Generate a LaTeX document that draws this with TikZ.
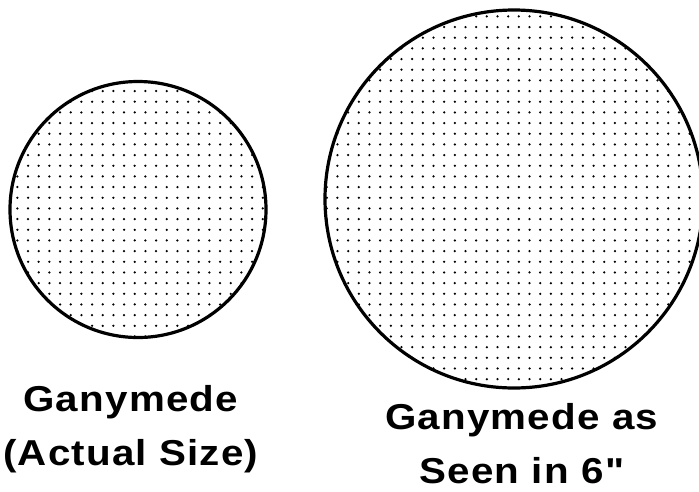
\documentclass[tikz,border=0pt]{standalone}
\usepackage{fontspec}
\setmainfont{Liberation Sans}
\newfontfamily\labelfont[LetterSpace=3]{Liberation Sans}
\usetikzlibrary{positioning}

\begin{document}
\begin{tikzpicture}[x=1pt,y=-1pt,every node/.style={inner sep=0pt},
  moon/.style={circle,draw,line width=3.2pt},
  caption/.style={align=center,xscale=1.12,transform shape,font=\labelfont\bfseries\fontsize{36}{54}\selectfont}]
\useasboundingbox (0,0) rectangle (699,491);
\node[moon,minimum size=256pt](actual) at (138,209.5){};
\node[moon,minimum size=378pt](seen) at (514,199){};
% dotted surface of both discs
\begin{scope}
\clip (actual.center) circle (128pt) (seen.center) circle (189pt);
\foreach \i in {0,...,65} \foreach \j in {0,...,46}
  \fill (6.7+10.67*\i,5.7+10.67*\j) circle (1.25pt);
\end{scope}
\node[caption,below=46pt of actual,xshift=-6.5pt](actuallabel){Ganymede\\(Actual Size)};
\node[caption,below=14pt of seen,xshift=7pt](seenlabel){Ganymede as\\Seen in 6"};
\end{tikzpicture}
\end{document}
